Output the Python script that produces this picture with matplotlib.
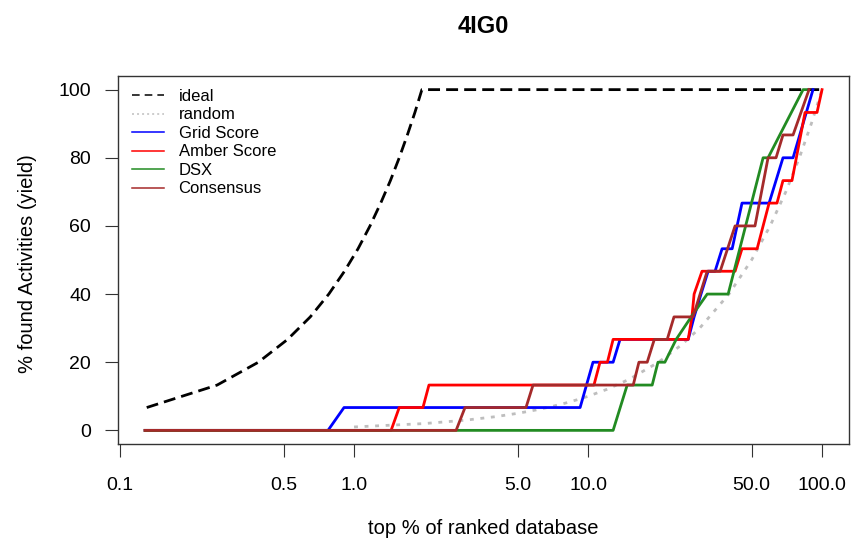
import numpy as np
import matplotlib.pyplot as plt
from matplotlib.lines import Line2D

plt.rcParams['font.family'] = ['Liberation Sans', 'DejaVu Sans']

# Text
title = '4IG0'
x_label = 'top % of ranked database'
y_label = '% found Activities (yield)'

# Axis ticks
x_ticks = [0.1, 0.5, 1, 5, 10, 50, 100]
x_tick_labels = ['0.1', '0.5', '1.0', '5.0', '10.0', '50.0', '100.0']
y_ticks = [0, 20, 40, 60, 80, 100]

# Reference curves
ideal_x = [0.13, 0.26, 0.39, 0.52, 0.65, 0.78, 0.91, 1.04, 1.17, 1.30, 1.43, 1.56, 1.69, 1.82, 1.95, 100]
ideal_y = [6.7, 13.3, 20, 26.7, 33.3, 40, 46.7, 53.3, 60, 66.7, 73.3, 80, 86.7, 93.3, 100, 100]

random_x = [1, 2, 3, 4, 5, 6, 7, 8, 9, 10, 12, 15, 20, 25, 30, 40, 50, 60, 70, 80, 90, 100]
random_y = [1, 2, 3, 4, 5, 6, 7, 8, 9, 10, 12, 15, 20, 25, 30, 40, 50, 60, 70, 80, 90, 100]

# Scoring functions: vertices of each yield curve
grid_x = [0.128, 0.774, 0.906, 9.25, 10.5, 12.8, 13.7, 26.8, 28.4, 30.4, 32.6, 34.9, 37.4, 41.3, 45.5, 59.4, 68.1, 75.2, 91.5]
grid_y = [0, 0, 6.7, 6.7, 20, 20, 26.7, 26.7, 33.3, 40, 46.7, 46.7, 53.3, 53.3, 66.7, 66.7, 80, 80, 100]

amber_x = [0.128, 1.44, 1.56, 1.97, 2.09, 10.6, 11.25, 12.1, 12.8, 26.8, 27.8, 28.4, 30.7, 42.5, 45.5, 52.8, 59.4, 64.2, 68.1, 74.4, 84.6, 95.2, 100]
amber_y = [0, 0, 6.7, 6.7, 13.3, 13.3, 20, 20, 26.7, 26.7, 33.3, 40, 46.7, 46.7, 53.3, 53.3, 66.7, 66.7, 73.3, 73.3, 93.3, 93.3, 100]

dsx_x = [0.128, 12.8, 14.7, 18.8, 19.9, 21.3, 23.8, 27.6, 32.3, 39.7, 56.0, 58.8, 83.0, 85.4]
dsx_y = [0, 0, 13.3, 13.3, 20, 20, 26.7, 33.3, 40, 40, 80, 80, 100, 100]

consensus_x = [0.128, 2.73, 2.98, 5.43, 5.82, 15.6, 16.5, 17.9, 19.2, 21.8, 23.3, 28.1, 32.3, 36.7, 42.5, 51.7, 58.8, 63.6, 68.1, 75.2, 88.0]
consensus_y = [0, 0, 6.7, 6.7, 13.3, 13.3, 20, 20, 26.7, 26.7, 33.3, 33.3, 46.7, 46.7, 60, 60, 80, 80, 86.7, 86.7, 100]

series = [
    ('Grid Score', grid_x, grid_y, '#0000FF'),
    ('Amber Score', amber_x, amber_y, '#FF0000'),
    ('DSX', dsx_x, dsx_y, '#228B22'),
    ('Consensus', consensus_x, consensus_y, '#A52A2A'),
]

# Figure in R base-graphics style
fig = plt.figure(figsize=(8.54, 5.46), dpi=100)
ax = fig.add_axes([118 / 854, 102 / 546, 731 / 854, 368 / 546])

ax.plot(ideal_x, ideal_y, color='black', lw=2, linestyle=(0, (4.3, 2.2)))
ax.plot(random_x, random_y, color='#BEBEBE', lw=2, linestyle=(0, (1.4, 2.4)))
for name, xs, ys, color in series:
    ax.plot(xs, ys, color=color, lw=2)

ax.set_xscale('log')
ax.set_xlim(0.098, 130.4)
ax.set_ylim(-4, 104)

ax.set_xticks(x_ticks)
ax.set_xticklabels(x_tick_labels)
ax.minorticks_off()
ax.set_yticks(y_ticks)
ax.tick_params(axis='both', direction='out', length=9.5, width=0.8, color='#333333', labelsize=14)
ax.tick_params(axis='x', pad=14)
ax.tick_params(axis='y', pad=10)

for spine in ax.spines.values():
    spine.set_color('#333333')
    spine.set_linewidth(1.0)

fig.text(483.5 / 854, 1 - 26.5 / 546, title, ha='center', va='center', fontsize=17, fontweight='bold')
fig.text(483.5 / 854, 1 - 529 / 546, x_label, ha='center', va='center', fontsize=14.5)
fig.text(28 / 854, 1 - 264 / 546, y_label, ha='center', va='center', rotation=90, fontsize=14.5)

# Legend (thin sample lines like R's legend)
handles = [
    Line2D([], [], color='black', lw=1.1, linestyle=(0, (5, 3.3))),
    Line2D([], [], color='#BEBEBE', lw=1.1, linestyle=(0, (1.3, 2))),
]
for name, xs, ys, color in series:
    handles.append(Line2D([], [], color=color, lw=1.1))
labels = ['ideal', 'random'] + [s[0] for s in series]

ax.legend(handles, labels, loc='upper left', bbox_to_anchor=(0.019, 0.965), frameon=False,
          fontsize=12, handlelength=1.9, handletextpad=0.9, labelspacing=0.21,
          borderpad=0, borderaxespad=0)

fig.savefig('out.png', dpi=100)
